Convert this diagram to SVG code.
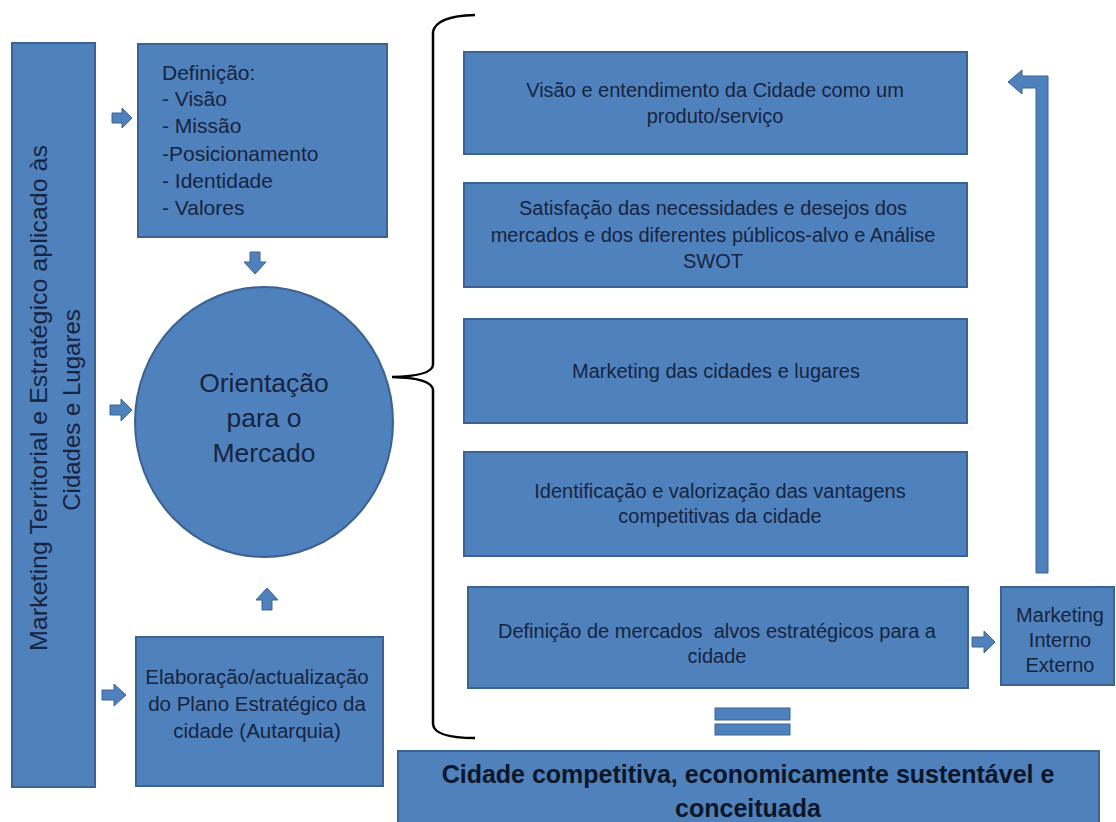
<svg xmlns="http://www.w3.org/2000/svg" width="1116" height="822" viewBox="0 0 1116 822">
<defs>
<style>
.box{fill:#4f81bd;stroke:#3b6291;stroke-width:2}
.arr{fill:#4f81bd;stroke:#3b6291;stroke-width:1}
.t{font-family:"Liberation Sans",Arial,sans-serif;fill:#17243f;font-size:20px}
.c{text-anchor:middle}
.brace{fill:none;stroke:#000;stroke-width:2.5}
</style>
</defs>
<rect width="1116" height="822" fill="#fff"/>

<g id="left-bar">
<rect class="box" x="12" y="43" width="83" height="744"/>
<text class="t c" style="font-size:24px" transform="translate(47,398) rotate(-90)" textLength="506" lengthAdjust="spacingAndGlyphs">Marketing Territorial e Estratégico aplicado às</text>
<text class="t c" style="font-size:24px" transform="translate(80,410) rotate(-90)">Cidades e Lugares</text>
</g>

<g id="definicao">
<rect class="box" x="138" y="44" width="249" height="193"/>
<text class="t" style="font-size:21px" x="162" y="80">Definição:</text>
<text class="t" style="font-size:21px" x="162" y="106">- Visão</text>
<text class="t" style="font-size:21px" x="162" y="133">- Missão</text>
<text class="t" style="font-size:21px" x="162" y="161">-Posicionamento</text>
<text class="t" style="font-size:21px" x="162" y="188">- Identidade</text>
<text class="t" style="font-size:21px" x="162" y="215">- Valores</text>
</g>

<g id="orientacao">
<ellipse class="box" cx="264" cy="422" rx="129" ry="135"/>
<text class="t c" style="font-size:26.5px" x="264" y="392">Orientação</text>
<text class="t c" style="font-size:26.5px" x="264" y="427">para o</text>
<text class="t c" style="font-size:26.5px" x="264" y="462">Mercado</text>
</g>

<g id="elaboracao">
<rect class="box" x="136" y="637" width="247" height="149"/>
<text class="t c" style="font-size:20.5px" x="257" y="684">Elaboração/actualização</text>
<text class="t c" style="font-size:20.5px" x="257" y="711">do Plano Estratégico da</text>
<text class="t c" style="font-size:20.5px" x="257" y="738">cidade (Autarquia)</text>
</g>

<g id="visao">
<rect class="box" x="464" y="52" width="503" height="102"/>
<text class="t c" x="715" y="97">Visão e entendimento da Cidade como um</text>
<text class="t c" x="715" y="123">produto/serviço</text>
</g>

<g id="satisfacao">
<rect class="box" x="464" y="183" width="503" height="104"/>
<text class="t c" x="713" y="215">Satisfação das necessidades e desejos dos</text>
<text class="t c" x="713" y="242">mercados e dos diferentes públicos-alvo e Análise</text>
<text class="t c" x="713" y="268">SWOT</text>
</g>

<g id="marketing-cidades">
<rect class="box" x="464" y="319" width="503" height="104"/>
<text class="t c" x="716" y="378">Marketing das cidades e lugares</text>
</g>

<g id="identificacao">
<rect class="box" x="464" y="452" width="503" height="104"/>
<text class="t c" x="720" y="498">Identificação e valorização das vantagens</text>
<text class="t c" x="720" y="523">competitivas da cidade</text>
</g>

<g id="definicao-mercados">
<rect class="box" x="468" y="587" width="500" height="101"/>
<text class="t c" x="717" y="638" xml:space="preserve">Definição de mercados  alvos estratégicos para a</text>
<text class="t c" x="717" y="663">cidade</text>
</g>

<g id="marketing-interno">
<rect class="box" x="1001" y="587" width="113" height="98"/>
<text class="t c" x="1060" y="622">Marketing</text>
<text class="t c" x="1060" y="647">Interno</text>
<text class="t c" x="1060" y="672">Externo</text>
</g>

<g id="resultado">
<rect class="box" x="398" y="751" width="701" height="80"/>
<text class="t c" style="font-size:25px;font-weight:bold;fill:#0d1628" x="748" y="783">Cidade competitiva, economicamente sustentável e</text>
<text class="t c" style="font-size:25px;font-weight:bold;fill:#0d1628" x="748" y="817">conceituada</text>
</g>

<g id="connectors">
<path class="brace" d="M475,15 Q436,16 433,32 L433,365 Q432,376 392,377 Q432,378 433,390 L433,724 Q434,738 475,738"/>
<polygon class="arr" points="112,113 122,113 122,108 132,118 122,128 122,123 112,123"/>
<polygon class="arr" points="110,405 121,405 121,399 132,410 121,421 121,415 110,415"/>
<polygon class="arr" points="102,690 114,690 114,684 126,695 114,706 114,700 102,700"/>
<polygon class="arr" points="250,252 260,252 260,262 266,262 255,274 244,262 250,262"/>
<polygon class="arr" points="262,610 272,610 272,600 278,600 267,588 256,600 262,600"/>
<polygon class="arr" points="972,637 984,637 984,631 995,642 984,653 984,647 972,647"/>
<polygon class="arr" points="1036,573 1036,88 1022,88 1022,94 1008,82 1022,70 1022,76 1048,76 1048,573"/>
<rect class="arr" x="715" y="708" width="75" height="12"/>
<rect class="arr" x="715" y="724" width="75" height="11"/>
</g>
</svg>
